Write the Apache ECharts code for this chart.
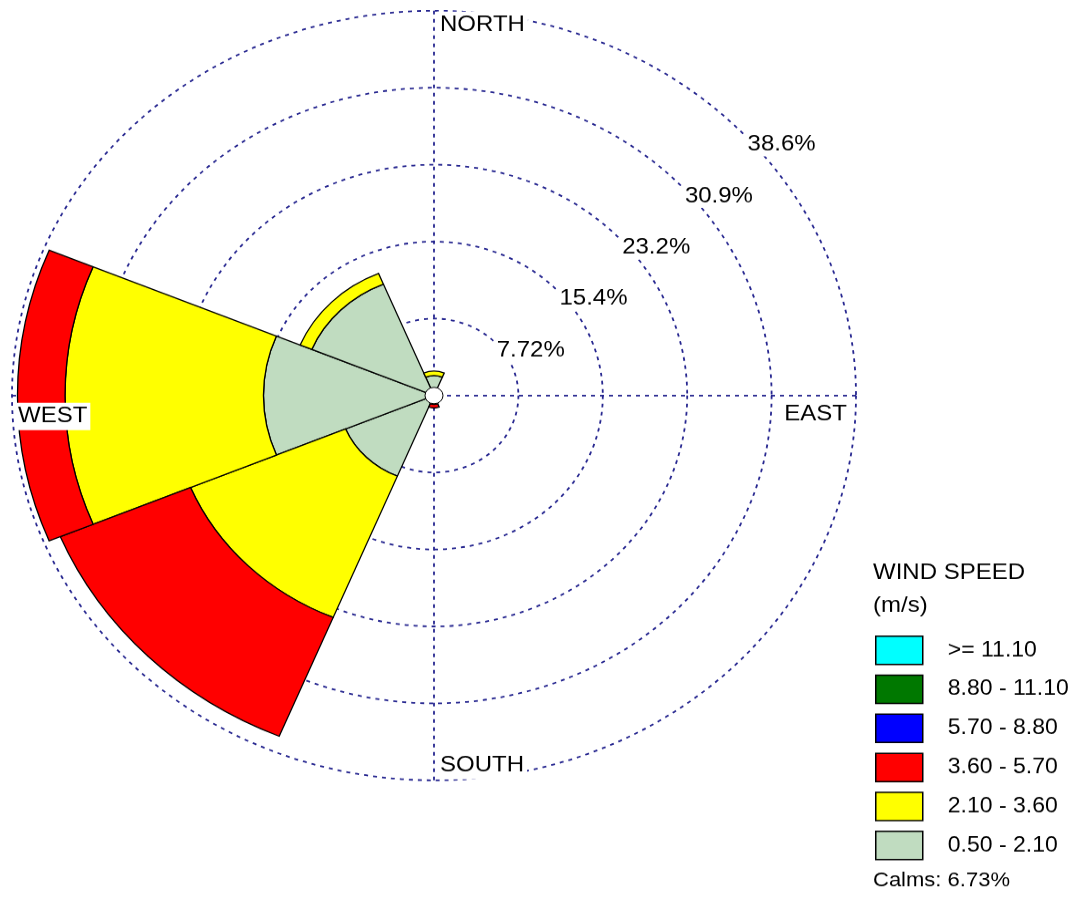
<!DOCTYPE html>
<html>
<head>
<meta charset="utf-8">
<script src="https://cdn.jsdelivr.net/npm/echarts@6/dist/echarts.min.js"></script>
<style>
html,body{margin:0;padding:0;background:#fff;overflow:hidden;}
#c{width:1076px;height:986px;transform:scaleY(0.91176);transform-origin:0 0;}
</style>
</head>
<body>
<div id="c"></div>
<script>
// ---- data ----
const directions = ['N', 'NE', 'E', 'SE', 'S', 'SW', 'W', 'NW'];
const speedBins = ['0.50 - 2.10', '2.10 - 3.60', '3.60 - 5.70', '5.70 - 8.80', '8.80 - 11.10', '>= 11.10'];
const bin050_210 = [2.0, 0, 0, 0, 0.65, 8.75, 15.6, 12.1];
const bin210_360 = [0.45, 0, 0, 0, 0.25, 15.35, 18.15, 1.15];
const bin360_570 = [0, 0, 0, 0, 0.35, 12.9, 4.35, 0];
const bin570_880 = [0, 0, 0, 0, 0, 0, 0, 0];
const bin880_1110 = [0, 0, 0, 0, 0, 0, 0, 0];
const bin1110up = [0, 0, 0, 0, 0, 0, 0, 0];
const ringTicks = [7.72, 15.44, 23.16, 30.88, 38.6];
const ringLabels = ['7.72%', '15.4%', '23.2%', '30.9%', '38.6%'];
const compassLabels = ['NORTH', 'EAST', 'SOUTH', 'WEST'];
const compassAngles = [0, 90, 180, 270];
const legendTitle = 'WIND SPEED\n(m/s)';
const calmsText = 'Calms: 6.73%';

// ---- styles ----
const binValues = [bin050_210, bin210_360, bin360_570, bin570_880, bin880_1110, bin1110up];
const binColors = ['#c0dcc0', '#ffff00', '#ff0000', '#0000ff', '#007800', '#00ffff'];
const FONT = 'Liberation Sans, Arial, sans-serif';
const GRID = '#25258f';
const DASH = [4, 5];
const CX = 434, CY = 433.8, R = 422;
const rMax = ringTicks[ringTicks.length - 1];

const chart = echarts.init(document.getElementById('c'));

const barSeries = speedBins.map((name, i) => ({
  type: 'bar',
  name: name,
  coordinateSystem: 'polar',
  polarIndex: 0,
  stack: 'rose',
  barCategoryGap: '0%',
  data: binValues[i].map(v => v > 0 ? v : '-'),
  itemStyle: { color: binColors[i], borderColor: '#000', borderWidth: 1.3 },
  emphasis: { disabled: true },
  z: 2
}));

const compassLabelCfg = [
  { align: 'left', verticalAlign: 'middle', offset: [3, 16] },
  { align: 'right', verticalAlign: 'middle', offset: [-6, 21] },
  { align: 'left', verticalAlign: 'middle', offset: [3, -16] },
  { align: 'left', verticalAlign: 'middle', offset: [3, 23] }
];

const option = {
  animation: false,
  backgroundColor: '#fff',
  title: [
    { text: legendTitle, left: 873, top: 611, padding: 0,
      textStyle: { fontFamily: FONT, fontSize: 24, fontWeight: 'normal', color: '#000', lineHeight: 35.7 } },
    { text: calmsText, left: 873, top: 954, padding: 0,
      textStyle: { fontFamily: FONT, fontSize: 22, fontWeight: 'normal', color: '#000', lineHeight: 24 } }
  ],
  legend: {
    orient: 'vertical',
    left: 875,
    top: 697,
    padding: 0,
    itemWidth: 47,
    itemHeight: 31,
    itemGap: 10.3,
    icon: 'rect',
    selectedMode: false,
    data: speedBins.slice().reverse(),
    itemStyle: { borderColor: '#000', borderWidth: 1.5 },
    textStyle: { fontFamily: FONT, fontSize: 23, color: '#000', padding: [0, 0, 0, 20] }
  },
  polar: [
    { center: [CX, CY], radius: R },
    { center: [CX, CY], radius: R }
  ],
  angleAxis: [
    { polarIndex: 0, type: 'category', data: directions, startAngle: 112.5, clockwise: true,
      axisLine: { show: false }, axisTick: { show: false }, axisLabel: { show: false }, splitLine: { show: false } },
    { polarIndex: 1, type: 'value', min: 0, max: 360, interval: 90, startAngle: 90, clockwise: true,
      axisLine: { show: false },
      axisTick: { show: false }, axisLabel: { show: false },
      splitLine: { show: true, lineStyle: { color: GRID, width: 1.8, type: DASH } } }
  ],
  radiusAxis: [
    { polarIndex: 0, type: 'value', min: 0, max: rMax,
      axisLine: { show: false }, axisTick: { show: false }, axisLabel: { show: false }, splitLine: { show: false } },
    { polarIndex: 1, type: 'value', min: 0, max: rMax, interval: ringTicks[0],
      axisLine: { show: false }, axisTick: { show: false }, axisLabel: { show: false },
      splitLine: { show: true, lineStyle: { color: GRID, width: 1.8, type: DASH } } }
  ],
  series: barSeries.concat([
    {
      type: 'scatter', coordinateSystem: 'polar', polarIndex: 1,
      symbol: 'circle', symbolSize: 18,
      itemStyle: { color: '#fff', borderColor: '#000', borderWidth: 1, opacity: 1 },
      data: [[0, 0]], z: 6, silent: true
    },
    {
      type: 'scatter', coordinateSystem: 'polar', polarIndex: 1,
      symbolSize: 0, itemStyle: { color: '#fff', opacity: 1 }, silent: true, z: 7,
      data: ringTicks.map((v, i) => ({ value: [v, 48], name: ringLabels[i] })),
      label: { show: true, position: 'inside', align: 'left', verticalAlign: 'top', offset: [-3, -6],
        formatter: p => p.name, fontFamily: FONT, fontSize: 24, color: '#000',
        backgroundColor: '#fff', padding: [1, 3] }
    },
    {
      type: 'scatter', coordinateSystem: 'polar', polarIndex: 1,
      symbolSize: 0, itemStyle: { color: '#fff', opacity: 1 }, silent: true, z: 8,
      data: compassLabels.map((t, i) => ({
        value: [rMax, compassAngles[i]], name: t,
        label: compassLabelCfg[i]
      })),
      label: { show: true, position: 'inside', formatter: p => p.name, fontFamily: FONT, fontSize: 24,
        color: '#000', backgroundColor: '#fff', padding: [3, 3] }
    }
  ])
};
chart.setOption(option);
</script>
</body>
</html>
